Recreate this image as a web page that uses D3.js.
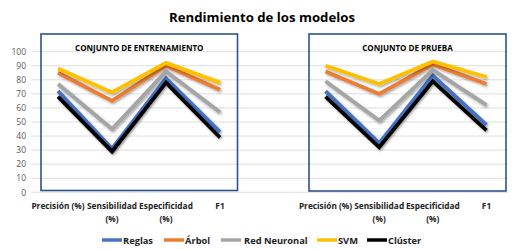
<!DOCTYPE html>
<html>
<head>
<meta charset="utf-8">
<script src="https://cdn.jsdelivr.net/npm/d3@7"></script>
<style>
  body { margin: 0; background: #fff; }
  text { font-family: "Open Sans", "Liberation Sans", sans-serif; }
</style>
</head>
<body>
<div id="chart"></div>
<script>
// categories (label lines for wrapping)
const categories = ["Precisión (%)", "Sensibilidad (%)", "Especificidad (%)", "F1"];
const categoryLines = [["Precisión (%)"], ["Sensibilidad", "(%)"], ["Especificidad", "(%)"], ["F1"]];
const panels = ["CONJUNTO DE ENTRENAMIENTO", "CONJUNTO DE PRUEBA"];
const models = ["Reglas", "Árbol", "Red Neuronal", "SVM", "Clúster"];
const colors = ["#4472C4", "#ED7D31", "#A5A5A5", "#FFC000", "#000000"];
const yTicks = [0, 10, 20, 30, 40, 50, 60, 70, 80, 90, 100];

// training set values, one array per model
const trainReglas = [72, 31, 81, 43];
const trainArbol = [85, 65, 90, 73];
const trainRed = [77, 45, 86, 57];
const trainSVM = [88, 71, 92, 78];
const trainCluster = [68, 29, 78, 39];

// test set values
const testReglas = [72, 35, 83, 48];
const testArbol = [86, 70, 91, 77];
const testRed = [79, 51, 87, 62];
const testSVM = [90, 77, 93, 82];
const testCluster = [68, 32, 79, 44];

const trainSeries = [trainReglas, trainArbol, trainRed, trainSVM, trainCluster];
const testSeries = [testReglas, testArbol, testRed, testSVM, testCluster];

const width = 512, height = 249;

const svg = d3.select("#chart").append("svg")
    .attr("width", width)
    .attr("height", height);

const defs = svg.append("defs");
defs.append("filter")
    .attr("id", "shadow")
    .attr("x", "-20%").attr("y", "-20%")
    .attr("width", "140%").attr("height", "140%")
  .append("feDropShadow")
    .attr("dx", 1.2).attr("dy", 1.5)
    .attr("stdDeviation", 0.9)
    .attr("flood-color", "#000")
    .attr("flood-opacity", 0.35);

const y = d3.scaleLinear().domain([0, 100]).range([192.3, 51.7]);

// title
svg.append("text")
    .attr("x", 262).attr("y", 22)
    .attr("text-anchor", "middle")
    .attr("font-size", 13.2)
    .attr("font-weight", 700)
    .attr("fill", "#000")
    .text("Rendimiento de los modelos");

// gridlines + y labels
const yAxis = d3.axisLeft(y).tickValues(yTicks).tickSize(0).tickPadding(0);
const yg = svg.append("g")
    .attr("transform", "translate(26,0)")
    .call(yAxis);
yg.select(".domain").remove();
yg.selectAll("text")
    .attr("font-size", 8.5)
    .attr("fill", "#595959")
    .attr("font-family", "Open Sans, Liberation Sans, sans-serif");

svg.append("g").selectAll("line").data(yTicks).join("line")
    .attr("x1", 31.5).attr("x2", 508)
    .attr("y1", d => y(d)).attr("y2", d => y(d))
    .attr("stroke", "#dedede")
    .attr("stroke-width", 1);

const panelDefs = [
    { title: panels[0], series: trainSeries, range: [58, 220], box: [41, 34, 237.5, 190.5] },
    { title: panels[1], series: testSeries, range: [325.5, 486.5], box: [309, 34, 506, 191] }
];

panelDefs.forEach(p => {
    const x = d3.scalePoint().domain(categories).range(p.range);

    const line = d3.line()
        .x((d, i) => x(categories[i]))
        .y(d => y(d));

    const g = svg.append("g");

    g.selectAll("path.series").data(p.series).join("path")
        .attr("class", "series")
        .attr("d", d => line(d))
        .attr("fill", "none")
        .attr("stroke", (d, i) => colors[i])
        .attr("stroke-width", 3.8)
        .attr("stroke-linejoin", "miter")
        .attr("filter", "url(#shadow)");

    // category labels
    const lab = g.selectAll("text.cat").data(categoryLines).join("text")
        .attr("class", "cat")
        .attr("text-anchor", "middle")
        .attr("font-size", 8.3)
        .attr("font-weight", 700)
        .attr("fill", "#222");
    lab.each(function (lines, i) {
        d3.select(this).selectAll("tspan").data(lines).join("tspan")
            .attr("x", x(categories[i]))
            .attr("y", (d, j) => 209 + j * 13)
            .text(d => d);
    });

    // framing box
    const [x0, y0, x1, y1] = p.box;
    g.append("rect")
        .attr("x", x0).attr("y", y0)
        .attr("width", x1 - x0).attr("height", y1 - y0)
        .attr("fill", "none")
        .attr("stroke", "#2F528F")
        .attr("stroke-width", 1.6);

    g.append("text")
        .attr("x", (x0 + x1) / 2).attr("y", 51)
        .attr("text-anchor", "middle")
        .attr("font-size", 8)
        .attr("font-weight", 700)
        .attr("fill", "#000")
        .text(p.title);
});

// legend
const legendX = [102, 164, 221, 317, 367];
const legend = svg.append("g").selectAll("g").data(models).join("g")
    .attr("transform", (d, i) => `translate(${legendX[i]},240)`);
legend.append("line")
    .attr("x1", 0).attr("x2", 20)
    .attr("stroke", (d, i) => colors[i])
    .attr("stroke-width", 3.5);
legend.append("text")
    .attr("x", (d, i) => i === 2 ? 23 : 21)
    .attr("y", 3.5)
    .attr("font-size", 9.3)
    .attr("font-weight", 700)
    .attr("fill", "#222")
    .text(d => d);
</script>
</body>
</html>
